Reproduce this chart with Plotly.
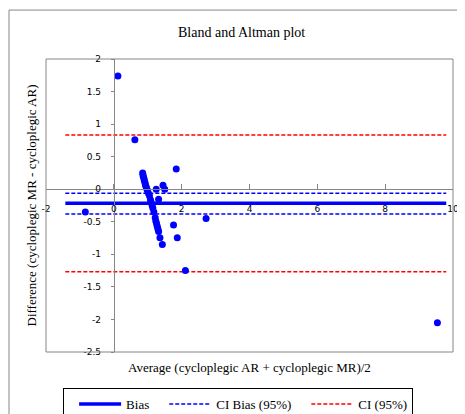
import plotly.graph_objects as go

# points (average, difference)
avg_x = [0.12, 0.62, -0.84, 2.11, 2.72, 9.54, 1.84, 1.25, 1.45, 1.50, 1.32, 1.76, 1.87,
         0.85, 0.86, 0.87, 0.89, 0.90, 0.92, 0.93, 0.95, 0.97, 0.99, 1.02, 1.05,
         1.08, 1.10, 1.13, 1.15, 1.18, 1.22, 1.24, 1.26, 1.28, 1.30, 1.32, 1.36, 1.43]
diff_y = [1.74, 0.76, -0.35, -1.25, -0.45, -2.05, 0.31, 0.0, 0.06, 0.0, -0.155, -0.55, -0.745,
          0.25, 0.22, 0.19, 0.16, 0.13, 0.10, 0.07, 0.04, 0.01, -0.02, -0.06, -0.10,
          -0.16, -0.20, -0.25, -0.29, -0.35, -0.44, -0.49, -0.53, -0.57, -0.61, -0.65, -0.745, -0.85]

line_x = [-1.43, 9.8]
bias = -0.217
ci_bias = [-0.063, -0.38]
ci = [0.833, -1.267]

x_ticks = [-2, 0, 2, 4, 6, 8, 10]
x_ticktext = ["-2", "0", "2", "4", "6", "8", "10"]
y_ticks = [2, 1.5, 1, 0.5, 0, -0.5, -1, -1.5, -2, -2.5]
y_ticktext = ["2", "1.5", "1", "0.5", "0", "-0.5", "-1", "-1.5", "-2", "-2.5"]

serif = "Liberation Serif, Times New Roman, serif"
sans = "DejaVu Sans, Verdana, sans-serif"
gray = "#868686"

fig = go.Figure()

fig.add_trace(go.Scatter(x=line_x, y=[bias, bias], mode="lines", name="Bias",
                         line=dict(color="#0000FF", width=3.5)))
fig.add_trace(go.Scatter(x=line_x + [None] + line_x,
                         y=[ci_bias[0], ci_bias[0], None, ci_bias[1], ci_bias[1]],
                         mode="lines", name="CI Bias (95%)",
                         line=dict(color="#0000FF", width=1.5, dash="4px,2px")))
fig.add_trace(go.Scatter(x=line_x + [None] + line_x,
                         y=[ci[0], ci[0], None, ci[1], ci[1]],
                         mode="lines", name="CI (95%)",
                         line=dict(color="#FF0000", width=1.5, dash="4px,2px")))
fig.add_trace(go.Scatter(x=avg_x, y=diff_y, mode="markers", showlegend=False,
                         marker=dict(color="#0000FF", size=7)))

# the page puts the figure 8px in from the top-left corner, so size it to fit
fig.update_layout(
    width=457, height=406,
    margin=dict(l=38, r=12, t=51, b=62, autoexpand=False),
    paper_bgcolor="white", plot_bgcolor="white",
    xaxis=dict(range=[-2, 10], tickvals=x_ticks, ticktext=x_ticktext,
               showgrid=False, zeroline=False, showline=True, linecolor=gray,
               anchor="free", position=2.5 / 4.5,
               ticks="inside", ticklen=5, tickcolor=gray, ticklabelstandoff=11,
               tickfont=dict(family=sans, size=9, color="black")),
    yaxis=dict(range=[-2.5, 2], tickvals=y_ticks, ticktext=y_ticktext,
               showgrid=False, zeroline=False, showline=True, linecolor=gray,
               anchor="free", position=2 / 12,
               ticks="outside", ticklen=3, tickcolor=gray, ticklabelstandoff=8,
               tickfont=dict(family=sans, size=9, color="black")),
    showlegend=True,
    legend=dict(orientation="h", x=0.042, y=-0.123, xanchor="left", yanchor="top",
                bordercolor="black", borderwidth=1, itemwidth=42, indentation=10,
                font=dict(family=serif, size=13, color="black")),
    shapes=[
        dict(type="rect", xref="paper", yref="paper", x0=0, x1=1, y0=0, y1=1,
             line=dict(color=gray, width=1)),
        dict(type="rect", xref="paper", yref="paper", x0=-0.0909, x1=1.2, y0=-0.4, y1=1.167,
             line=dict(color=gray, width=1), layer="below"),
    ],
    annotations=[
        dict(text="Bland and Altman plot", xref="paper", yref="paper", x=0.48, y=1.092,
             xanchor="center", yanchor="middle", showarrow=False,
             font=dict(family=serif, size=14, color="black")),
        dict(text="Average (cycloplegic AR + cycloplegic MR)/2", xref="paper", yref="paper",
             x=0.501, y=-0.0546, xanchor="center", yanchor="middle", showarrow=False,
             font=dict(family=serif, size=13, color="black")),
        dict(text="Difference (cycloplegic MR - cycloplegic AR)", xref="paper", yref="paper",
             x=-0.0344, y=0.5, textangle=-90, xanchor="center", yanchor="middle",
             showarrow=False, font=dict(family=serif, size=13, color="black")),
    ],
)

fig.write_html("out.html")
